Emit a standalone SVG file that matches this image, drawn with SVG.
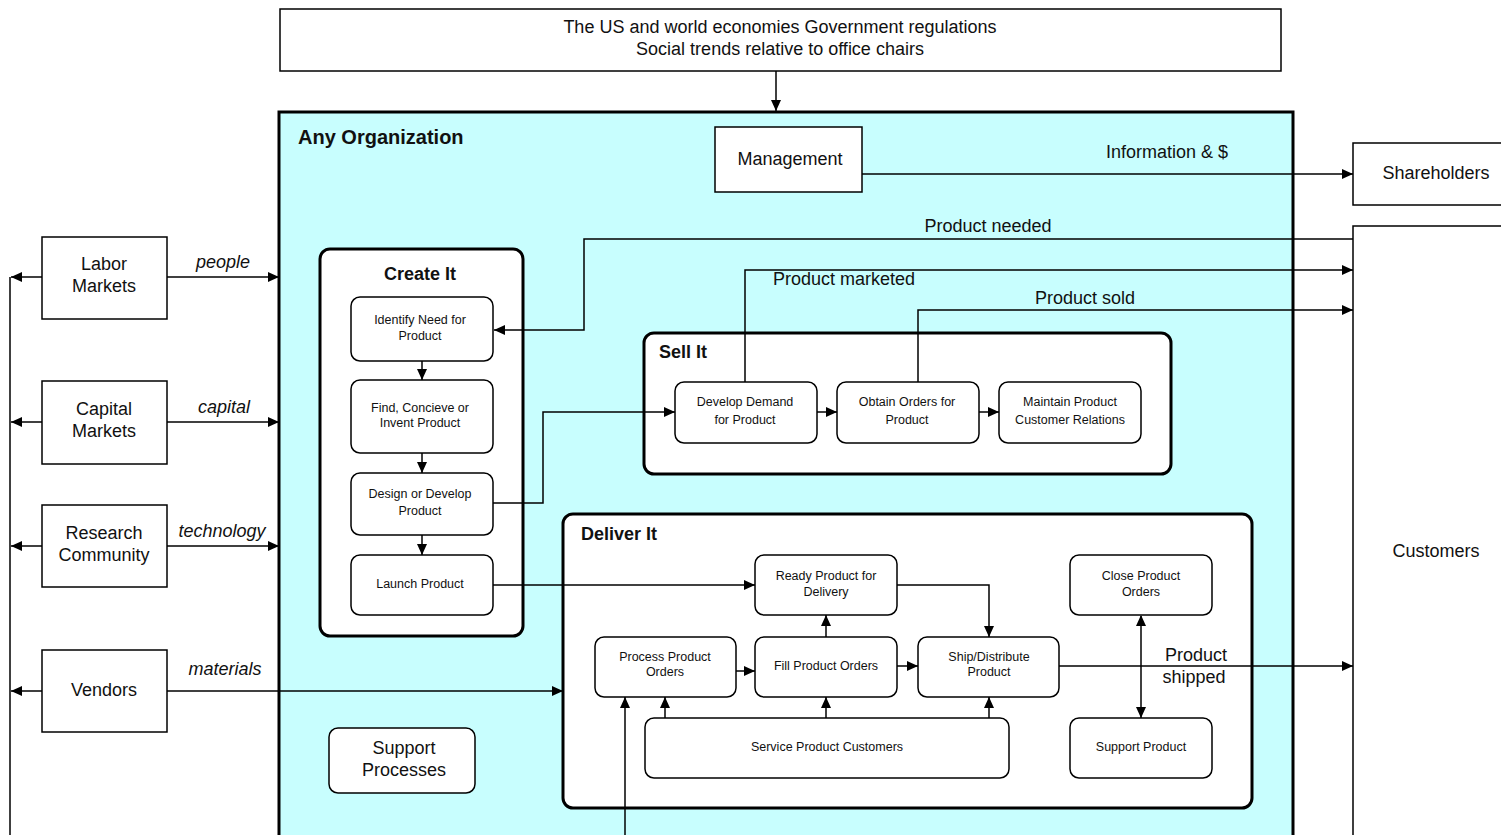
<svg xmlns="http://www.w3.org/2000/svg" width="1501" height="835" viewBox="0 0 1501 835">
<defs>
<marker id="ah" markerUnits="userSpaceOnUse" markerWidth="12" markerHeight="10" refX="11" refY="5" orient="auto">
<path d="M0,0 L11,5 L0,10 Z" fill="#000"/>
</marker>
<marker id="ahs" markerUnits="userSpaceOnUse" markerWidth="12" markerHeight="10" refX="1" refY="5" orient="auto">
<path d="M11,0 L0,5 L11,10 Z" fill="#000"/>
</marker>
<style>
text{font-family:"Liberation Sans",Arial,sans-serif;fill:#111;text-anchor:middle}
.box{fill:#fff;stroke:#000;stroke-width:1.5}
.ctr{fill:#fff;stroke:#000;stroke-width:3}
.rb{fill:#fff;stroke:#000;stroke-width:1.5}
.big{font-size:18px}
.sm{font-size:12.5px}
.ttl{font-size:20px;font-weight:bold;text-anchor:start}
.it{font-size:18px;font-style:italic}
.ln{fill:none;stroke:#000;stroke-width:1.5}
.arr{fill:none;stroke:#000;stroke-width:1.5;marker-end:url(#ah)}
</style>
</defs>
<rect width="1501" height="835" fill="#fff"/>

<g id="org">
<rect x="279" y="112" width="1014" height="730" fill="#c8fefe" stroke="#000" stroke-width="3"/>
<text class="ttl" x="298" y="144">Any Organization</text>
</g>

<g id="environment">
<rect class="box" x="280" y="9" width="1001" height="62"/>
<text class="big" x="780" y="33">The US and world economies Government regulations</text>
<text class="big" x="780" y="55">Social trends relative to office chairs</text>
</g>

<g id="management">
<rect class="box" x="715" y="127" width="147" height="65"/>
<text class="big" x="790" y="165">Management</text>
</g>

<g id="shareholders">
<rect class="box" x="1353" y="143" width="160" height="62"/>
<text class="big" x="1436" y="179">Shareholders</text>
</g>

<g id="customers">
<rect class="box" x="1353" y="226" width="160" height="620"/>
<text class="big" x="1436" y="557">Customers</text>
</g>

<g id="labor">
<rect class="box" x="42" y="237" width="125" height="82"/>
<text class="big" x="104" y="270">Labor</text>
<text class="big" x="104" y="292">Markets</text>
</g>
<g id="capital">
<rect class="box" x="42" y="381" width="125" height="83"/>
<text class="big" x="104" y="415">Capital</text>
<text class="big" x="104" y="437">Markets</text>
</g>
<g id="research">
<rect class="box" x="42" y="505" width="125" height="82"/>
<text class="big" x="104" y="539">Research</text>
<text class="big" x="104" y="561">Community</text>
</g>
<g id="vendors">
<rect class="box" x="42" y="650" width="125" height="82"/>
<text class="big" x="104" y="696">Vendors</text>
</g>

<g id="support-processes">
<rect class="rb" x="329" y="728" width="146" height="65" rx="9"/>
<text class="big" x="404" y="754">Support</text>
<text class="big" x="404" y="776">Processes</text>
</g>

<g id="create-it">
<rect class="ctr" x="320" y="249" width="203" height="387" rx="10"/>
<text class="ttl" x="420" y="280" style="text-anchor:middle;font-size:18px">Create It</text>
</g>
<g id="identify">
<rect class="rb" x="351" y="297" width="142" height="64" rx="9"/>
<text class="sm" x="420" y="324">Identify Need for</text>
<text class="sm" x="420" y="340">Product</text>
</g>
<g id="find">
<rect class="rb" x="351" y="380" width="142" height="73" rx="9"/>
<text class="sm" x="420" y="412">Find, Concieve or</text>
<text class="sm" x="420" y="427">Invent Product</text>
</g>
<g id="design">
<rect class="rb" x="351" y="473" width="142" height="62" rx="9"/>
<text class="sm" x="420" y="498">Design or Develop</text>
<text class="sm" x="420" y="515">Product</text>
</g>
<g id="launch">
<rect class="rb" x="351" y="555" width="142" height="60" rx="9"/>
<text class="sm" x="420" y="588">Launch Product</text>
</g>

<g id="sell-it">
<rect class="ctr" x="644" y="333" width="527" height="141" rx="10"/>
<text class="ttl" x="659" y="358" style="font-size:18px">Sell It</text>
</g>
<g id="develop-demand">
<rect class="rb" x="675" y="382" width="142" height="61" rx="9"/>
<text class="sm" x="745" y="406">Develop Demand</text>
<text class="sm" x="745" y="424">for Product</text>
</g>
<g id="obtain-orders">
<rect class="rb" x="837" y="382" width="142" height="61" rx="9"/>
<text class="sm" x="907" y="406">Obtain Orders for</text>
<text class="sm" x="907" y="424">Product</text>
</g>
<g id="maintain">
<rect class="rb" x="999" y="382" width="142" height="61" rx="9"/>
<text class="sm" x="1070" y="406">Maintain Product</text>
<text class="sm" x="1070" y="424">Customer Relations</text>
</g>

<g id="deliver-it">
<rect class="ctr" x="563" y="514" width="689" height="294" rx="10"/>
<text class="ttl" x="581" y="540" style="font-size:18px">Deliver It</text>
</g>
<g id="ready">
<rect class="rb" x="755" y="555" width="142" height="60" rx="9"/>
<text class="sm" x="826" y="580">Ready Product for</text>
<text class="sm" x="826" y="596">Delivery</text>
</g>
<g id="close-orders">
<rect class="rb" x="1070" y="555" width="142" height="60" rx="9"/>
<text class="sm" x="1141" y="580">Close Product</text>
<text class="sm" x="1141" y="596">Orders</text>
</g>
<g id="process-orders">
<rect class="rb" x="595" y="637" width="141" height="60" rx="9"/>
<text class="sm" x="665" y="661">Process Product</text>
<text class="sm" x="665" y="676">Orders</text>
</g>
<g id="fill-orders">
<rect class="rb" x="755" y="637" width="142" height="60" rx="9"/>
<text class="sm" x="826" y="670">Fill Product Orders</text>
</g>
<g id="ship">
<rect class="rb" x="918" y="637" width="141" height="60" rx="9"/>
<text class="sm" x="989" y="661">Ship/Distribute</text>
<text class="sm" x="989" y="676">Product</text>
</g>
<g id="service">
<rect class="rb" x="645" y="718" width="364" height="60" rx="9"/>
<text class="sm" x="827" y="751">Service Product Customers</text>
</g>
<g id="support-product">
<rect class="rb" x="1070" y="718" width="142" height="60" rx="9"/>
<text class="sm" x="1141" y="751">Support Product</text>
</g>

<g id="connectors">
<path class="arr" d="M776,71 V111"/>
<path class="arr" d="M862,174 H1353"/>
<text class="big" x="1167" y="158">Information &amp; $</text>
<path class="arr" d="M1353,239 H584 V330 H494"/>
<text class="big" x="988" y="232">Product needed</text>
<path class="arr" d="M745,382 V270 H1353"/>
<text class="big" x="773" y="285" style="text-anchor:start">Product marketed</text>
<path class="arr" d="M918,382 V310 H1353"/>
<text class="big" x="1085" y="304">Product sold</text>
<path class="arr" d="M422,361 V380"/>
<path class="arr" d="M422,453 V473"/>
<path class="arr" d="M422,535 V555"/>
<path class="arr" d="M493,503 H543 V412 H675"/>
<path class="arr" d="M817,412 H837"/>
<path class="arr" d="M979,412 H999"/>
<path class="arr" d="M493,585 H755"/>
<path class="arr" d="M736,671 H755"/>
<path class="arr" d="M897,666 H918"/>
<path class="arr" d="M826,637 V615"/>
<path class="arr" d="M897,585 H989 V637"/>
<path class="arr" d="M665,718 V697"/>
<path class="arr" d="M826,718 V697"/>
<path class="arr" d="M989,718 V697"/>
<path class="arr" d="M1141,616 V718" style="marker-start:url(#ahs)"/>
<path class="arr" d="M1059,666 H1353"/>
<text class="big" x="1196" y="661">Product</text>
<text class="big" x="1194" y="683">shipped</text>
<path class="arr" d="M625,835 V697"/>
<path class="arr" d="M167,277 H279"/>
<text class="it" x="223" y="268">people</text>
<path class="arr" d="M167,422 H279"/>
<text class="it" x="224" y="413">capital</text>
<path class="arr" d="M167,546 H279"/>
<text class="it" x="222" y="537">technology</text>
<path class="arr" d="M167,691 H563"/>
<text class="it" x="225" y="675">materials</text>
<path class="arr" d="M42,277 H11"/>
<path class="arr" d="M42,422 H11"/>
<path class="arr" d="M42,546 H11"/>
<path class="arr" d="M42,691 H11"/>
<path class="ln" d="M10,277 V835"/>
</g>
</svg>
